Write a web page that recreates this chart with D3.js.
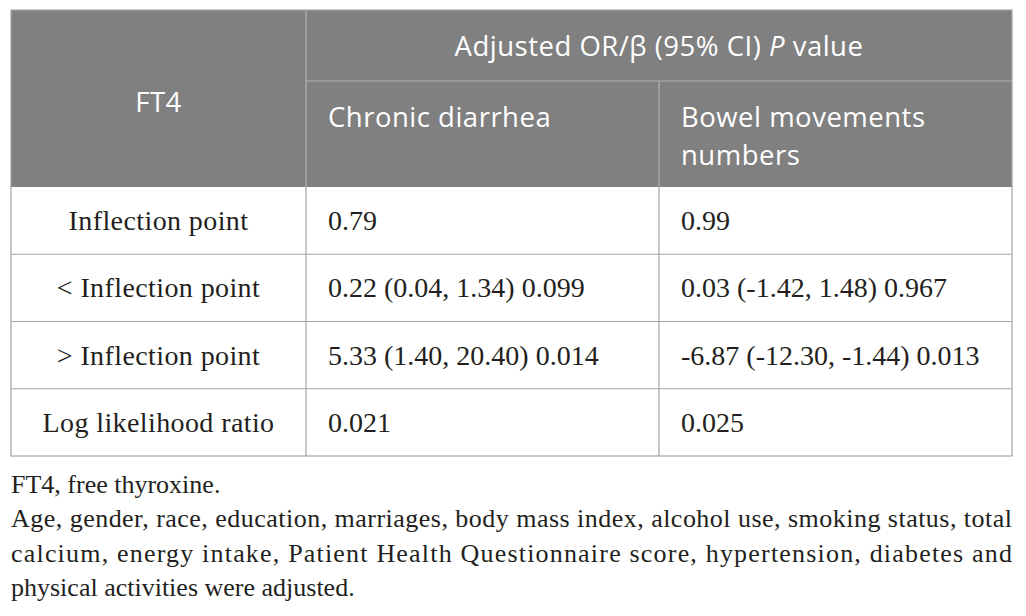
<!DOCTYPE html>
<html>
<head>
<meta charset="utf-8">
<script src="https://cdn.jsdelivr.net/npm/d3@7"></script>
<style>
	html, body { margin: 0; padding: 0; background: #fff; }
	svg { display: block; }
</style>
</head>
<body>
<svg id="table" width="1026" height="616"></svg>
<script>
// Table contents
const stubHeader = "FT4";
const spanHeader = ["Adjusted OR/β (95% CI) ", "P", " value"];
const columnHeaders = ["Chronic diarrhea", "Bowel movements numbers"];
const rowLabels = ["Inflection point", "< Inflection point", "> Inflection point", "Log likelihood ratio"];
const chronicDiarrhea = ["0.79", "0.22 (0.04, 1.34) 0.099", "5.33 (1.40, 20.40) 0.014", "0.021"];
const bowelMovements = ["0.99", "0.03 (-1.42, 1.48) 0.967", "-6.87 (-12.30, -1.44) 0.013", "0.025"];

// Footnote lines as typeset; `justify` marks lines stretched to full width
const footnoteLines = [
	{ text: "FT4, free thyroxine.", justify: false },
	{ text: "Age, gender, race, education, marriages, body mass index, alcohol use, smoking status, total", justify: true },
	{ text: "calcium, energy intake, Patient Health Questionnaire score, hypertension, diabetes and", justify: true },
	{ text: "physical activities were adjusted.", justify: false }
];


function drawTable(svgElement) {
	const svg = d3.select(svgElement);

	const left = 11, right = 1012;
	const top = 10, spanBottom = 81, headerBottom = 187, bodyBottom = 456;
	const padX = 22;

	const sans = "'Open Sans', sans-serif";
	const serif = "'Liberation Serif', 'Times New Roman', serif";
	const borderColor = "#a3a3a3";
	const headerFill = "#808080";
	const textColor = "#231f20";

	// Columns: stub, then the two outcome columns
	const columnKeys = ["label", "chronic", "bowel"];
	const colX = d3.scaleOrdinal().domain(columnKeys).range([left, 306, 659]);
	const colRight = d3.scaleOrdinal().domain(columnKeys).range([306, 659, right]);

	// Body rows
	const y = d3.scaleBand().domain(rowLabels).range([headerBottom, bodyBottom]);

	const rows = rowLabels.map((label, i) => ({
		label,
		chronic: chronicDiarrhea[i],
		bowel: bowelMovements[i]
	}));

	// Header background
	svg.append("rect")
		.attr("x", left).attr("y", top)
		.attr("width", right - left).attr("height", headerBottom - top)
		.attr("fill", headerFill);

	// Header lines
	const headerLines = svg.append("g")
		.attr("stroke", "#b0b0b0")
		.attr("stroke-width", 1.2);
	headerLines.append("line")
		.attr("x1", colX("chronic")).attr("x2", right)
		.attr("y1", spanBottom).attr("y2", spanBottom);
	headerLines.append("line")
		.attr("x1", colX("chronic")).attr("x2", colX("chronic"))
		.attr("y1", top).attr("y2", headerBottom);
	headerLines.append("line")
		.attr("x1", colX("bowel")).attr("x2", colX("bowel"))
		.attr("y1", spanBottom).attr("y2", headerBottom);

	// Header texts
	const headerText = svg.append("g")
		.attr("fill", "#ffffff")
		.attr("font-family", sans)
		.attr("font-size", 27.5)
		.attr("letter-spacing", 0.5);

	headerText.append("text")
		.attr("x", (colX("label") + colRight("label")) / 2)
		.attr("y", 112)
		.attr("text-anchor", "middle")
		.text(stubHeader);

	headerText.append("text")
		.attr("x", (colX("chronic") + right) / 2)
		.attr("y", 56)
		.attr("text-anchor", "middle")
		.selectAll("tspan")
		.data(spanHeader)
		.join("tspan")
		.attr("font-style", (d, i) => i === 1 ? "italic" : null)
		.text(d => d);

	headerText.selectAll("text.colHeader")
		.data(columnHeaders)
		.join("text")
		.attr("class", "colHeader")
		.attr("x", (d, i) => colX(columnKeys[i + 1]) + padX)
		.attr("y", 127)
		.each(function(d, i) {
			wrapText(d3.select(this), d, colRight(columnKeys[i + 1]) - colX(columnKeys[i + 1]) - 2 * padX, 38);
		});

	// Body grid
	const grid = svg.append("g")
		.attr("stroke", borderColor)
		.attr("stroke-width", 1.2)
		.attr("fill", "none");

	grid.selectAll("line.rowLine")
		.data(rowLabels.slice(1))
		.join("line")
		.attr("class", "rowLine")
		.attr("x1", left).attr("x2", right)
		.attr("y1", d => y(d)).attr("y2", d => y(d));

	grid.selectAll("line.colLine")
		.data(columnKeys.slice(1))
		.join("line")
		.attr("class", "colLine")
		.attr("x1", d => colX(d)).attr("x2", d => colX(d))
		.attr("y1", headerBottom).attr("y2", bodyBottom);

	grid.append("rect")
		.attr("x", left).attr("y", top)
		.attr("width", right - left).attr("height", bodyBottom - top);

	// Body cells
	const body = svg.append("g")
		.attr("fill", textColor)
		.attr("font-family", serif)
		.attr("font-size", 28);

	const rowGroups = body.selectAll("g.row")
		.data(rows)
		.join("g")
		.attr("class", "row")
		.attr("transform", d => `translate(0, ${y(d.label) + y.bandwidth() / 2 + 9.5})`);

	rowGroups.append("text")
		.attr("x", (colX("label") + colRight("label")) / 2)
		.attr("text-anchor", "middle")
		.attr("letter-spacing", 0.4)
		.text(d => d.label);

	rowGroups.append("text")
		.attr("x", colX("chronic") + padX)
		.text(d => d.chronic);

	rowGroups.append("text")
		.attr("x", colX("bowel") + padX)
		.text(d => d.bowel);

	// Footnotes
	svg.append("g")
		.attr("fill", textColor)
		.attr("font-family", serif)
		.attr("font-size", 26)
		.selectAll("text")
		.data(footnoteLines)
		.join("text")
		.attr("x", left)
		.attr("y", (d, i) => 493 + i * 34.3)
		.attr("textLength", d => d.justify ? right - left : null)
		.attr("lengthAdjust", d => d.justify ? "spacing" : null)
		.text(d => d.text);
}


// Word wrap into tspans by measured width
function wrapText(textSelection, content, maxWidth, lineHeight) {
	const words = content.split(" ");
	const x = textSelection.attr("x");
	let line = [];
	let tspan = textSelection.append("tspan").attr("x", x).attr("dy", 0);
	for (const word of words) {
		line.push(word);
		tspan.text(line.join(" "));
		if (tspan.node().getComputedTextLength() > maxWidth && line.length > 1) {
			line.pop();
			tspan.text(line.join(" "));
			line = [word];
			tspan = textSelection.append("tspan").attr("x", x).attr("dy", lineHeight).text(word);
		}
	}
}


drawTable(document.getElementById("table"));
</script>
</body>
</html>
